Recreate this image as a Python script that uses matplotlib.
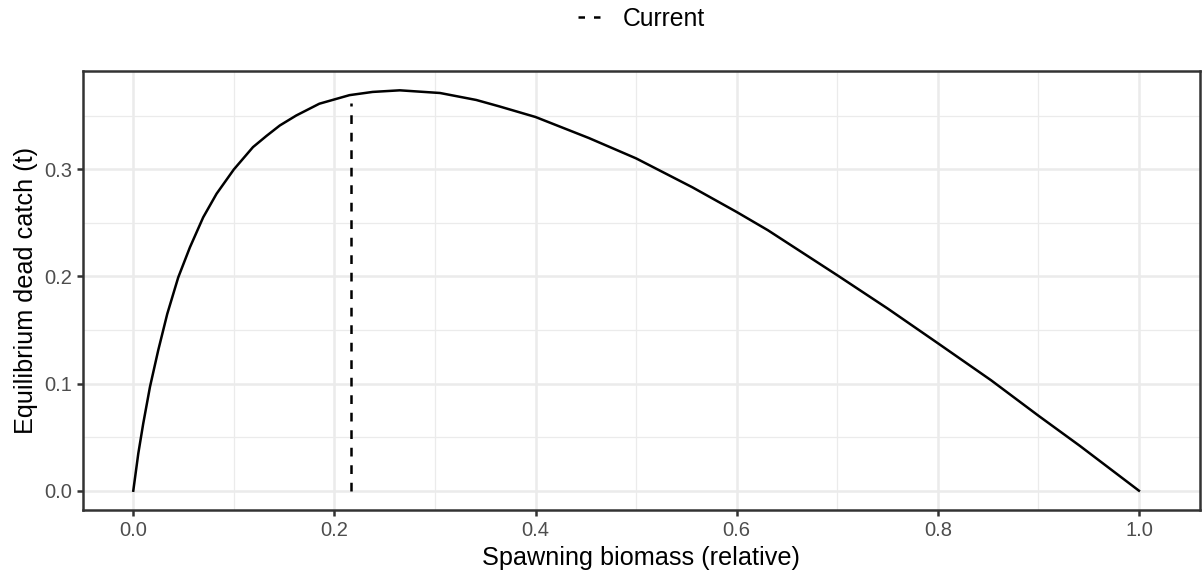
import matplotlib
matplotlib.use("Agg")
import matplotlib.pyplot as plt
from matplotlib.lines import Line2D

plt.rcParams['font.family'] = ['Liberation Sans', 'DejaVu Sans']

# equilibrium curve
biomass = [0, 0.005, 0.0099, 0.0166, 0.0248, 0.0338, 0.0447, 0.0563, 0.0695, 0.0828,
           0.1, 0.119, 0.1325, 0.1457, 0.162, 0.185, 0.215, 0.238, 0.265, 0.305,
           0.341, 0.364, 0.4, 0.453, 0.5, 0.556, 0.6, 0.631, 0.7, 0.75,
           0.8, 0.853, 0.9, 0.941, 1.0]
catch = [0, 0.0348, 0.0627, 0.0969, 0.131, 0.165, 0.199, 0.227, 0.255, 0.277,
         0.2997, 0.3205, 0.331, 0.3407, 0.350, 0.361, 0.369, 0.372, 0.3735, 0.371,
         0.3645, 0.3585, 0.3486, 0.329, 0.310, 0.283, 0.260, 0.243, 0.201, 0.170,
         0.1376, 0.103, 0.070, 0.042, 0]

current_x = 0.216
current_y = 0.362

xticks = [0.0, 0.2, 0.4, 0.6, 0.8, 1.0]
yticks = [0.0, 0.1, 0.2, 0.3]

W, H = 1203, 579
fig = plt.figure(figsize=(W / 150, H / 150), dpi=150)
ax = fig.add_axes([83 / W, (H - 510) / H, (1200 - 83) / W, (510 - 70.7) / H])

lw = 1.2
# ggplot-like grid
for v in [0.1, 0.3, 0.5, 0.7, 0.9]:
    ax.axvline(v, color='#EBEBEB', lw=lw / 2, zorder=0)
for v in [0.05, 0.15, 0.25, 0.35]:
    ax.axhline(v, color='#EBEBEB', lw=lw / 2, zorder=0)
for v in xticks:
    ax.axvline(v, color='#EBEBEB', lw=lw, zorder=0)
for v in yticks:
    ax.axhline(v, color='#EBEBEB', lw=lw, zorder=0)

ax.plot(biomass, catch, color='black', lw=lw, zorder=3)
ax.plot([current_x, current_x], [0, current_y], color='black', lw=lw,
        dashes=(3.5, 3.5), zorder=3)

ax.set_xlim(-0.05, 1.0607)
ax.set_ylim(-0.018, 0.3918)
ax.set_xticks(xticks)
ax.set_yticks(yticks)
ax.set_xticklabels([f"{v:.1f}" for v in xticks])
ax.set_yticklabels([f"{v:.1f}" for v in yticks])
ax.tick_params(colors='#333333', labelcolor='#4D4D4D', labelsize=9.7,
               length=2.9, width=lw, pad=2.4)
for s in ax.spines.values():
    s.set_color('#333333')
    s.set_linewidth(lw)

ax.set_xlabel('Spawning biomass (relative)', fontsize=12.1, labelpad=3)
ax.set_ylabel('Equilibrium dead catch (t)', fontsize=12.1, labelpad=3)

handle = Line2D([], [], color='black', lw=lw, dashes=(2.6, 3.6))
fig.legend(handles=[handle], labels=['Current'], loc='center',
           bbox_to_anchor=(641.5 / W, 1 - 19 / H), frameon=False, fontsize=11.9,
           handlelength=0.9, handletextpad=0.93)

fig.savefig('out.png', dpi=150)
